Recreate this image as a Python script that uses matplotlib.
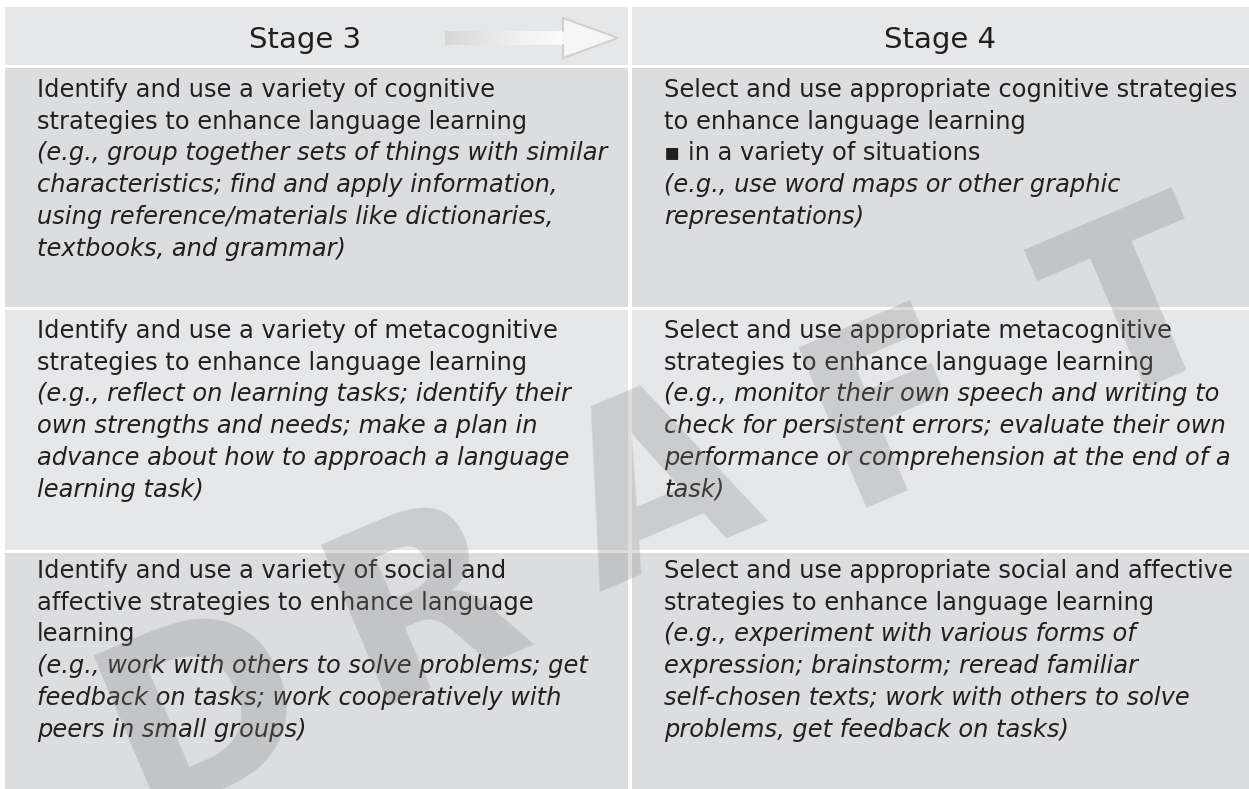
import numpy as np
import matplotlib.pyplot as plt
from matplotlib.patches import Rectangle, Polygon

# Table content
headers = ["Stage 3", "Stage 4"]

stage3_main = [
    ["Identify and use a variety of cognitive",
     "strategies to enhance language learning"],
    ["Identify and use a variety of metacognitive",
     "strategies to enhance language learning"],
    ["Identify and use a variety of social and",
     "affective strategies to enhance language",
     "learning"],
]
stage3_examples = [
    ["(e.g., group together sets of things with similar",
     "characteristics; find and apply information,",
     "using reference/materials like dictionaries,",
     "textbooks, and grammar)"],
    ["(e.g., reflect on learning tasks; identify their",
     "own strengths and needs; make a plan in",
     "advance about how to approach a language",
     "learning task)"],
    ["(e.g., work with others to solve problems; get",
     "feedback on tasks; work cooperatively with",
     "peers in small groups)"],
]
stage4_main = [
    ["Select and use appropriate cognitive strategies",
     "to enhance language learning",
     "\u25aa in a variety of situations"],
    ["Select and use appropriate metacognitive",
     "strategies to enhance language learning"],
    ["Select and use appropriate social and affective",
     "strategies to enhance language learning"],
]
stage4_examples = [
    ["(e.g., use word maps or other graphic",
     "representations)"],
    ["(e.g., monitor their own speech and writing to",
     "check for persistent errors; evaluate their own",
     "performance or comprehension at the end of a",
     "task)"],
    ["(e.g., experiment with various forms of",
     "expression; brainstorm; reread familiar",
     "self-chosen texts; work with others to solve",
     "problems, get feedback on tasks)"],
]
watermark = "DRAFT"

# Layout (pixels)
W, H = 1249, 789
col_x = [(5, 628), (632, 1249)]
header_y = (7, 65)
row_y = [(68, 307), (310, 550), (553, 789)]
first_baseline = [97, 338, 578]
row_colors = ["#dcdddf", "#e6e7e8", "#dcdddf"]
header_color = "#e6e7e8"
text_color = "#231f20"
body_size = 17.4
line_gap = 31.7
mark_pos = [(195, 694), (416, 586), (648, 472), (884, 392), (1130, 294)]

fig = plt.figure(figsize=(W / 100, H / 100), dpi=100)
ax = fig.add_axes([0, 0, 1, 1])
ax.set_xlim(0, W)
ax.set_ylim(H, 0)
ax.axis("off")

# header cells
for (x0, x1) in col_x:
    ax.add_patch(Rectangle((x0, header_y[0]), x1 - x0, header_y[1] - header_y[0],
                           facecolor=header_color, edgecolor="none", zorder=1))
ax.text(305, 37, headers[0], fontsize=21, color=text_color, ha="center",
        va="center_baseline", zorder=5)
ax.text(940, 37, headers[1], fontsize=21, color=text_color, ha="center",
        va="center_baseline", zorder=5)

# arrow between the stages
grad = np.linspace(0, 1, 256).reshape(1, -1)
ax.imshow(grad, extent=(445, 563, 45, 31), cmap="Greys_r", vmin=-3.2, vmax=1.15,
          aspect="auto", zorder=2, interpolation="bilinear")
ax.add_patch(Polygon([(563, 18), (618, 38), (563, 58)], closed=True,
                     facecolor="#f6f6f6", edgecolor="none", zorder=2))
ax.plot([563, 563, 618, 563, 563], [31, 18, 38, 58, 45], color="#cfcfcf",
        lw=1.4, zorder=3, solid_joinstyle="miter")
ax.set_xlim(0, W)
ax.set_ylim(H, 0)

# body cells
for r, (y0, y1) in enumerate(row_y):
    for (x0, x1) in col_x:
        ax.add_patch(Rectangle((x0, y0), x1 - x0, y1 - y0,
                               facecolor=row_colors[r], edgecolor="none", zorder=1))
    for c, (main, examples) in enumerate([(stage3_main[r], stage3_examples[r]),
                                          (stage4_main[r], stage4_examples[r])]):
        tx = col_x[c][0] + 32
        lines = [(s, "normal") for s in main] + [(s, "italic") for s in examples]
        for i, (s, style) in enumerate(lines):
            ax.text(tx, first_baseline[r] + i * line_gap, s, fontsize=body_size,
                    style=style, color=text_color, ha="left", va="baseline",
                    zorder=5)

# DRAFT watermark, semi-transparent over everything
for ch, (px, py) in zip(watermark, mark_pos):
    ax.text(px, py, ch, fontsize=172, fontweight="bold", color="#818283",
            alpha=0.27, ha="center", va="center_baseline", rotation=23,
            rotation_mode="anchor", zorder=6)

fig.savefig("out.png", dpi=100, facecolor="white")
